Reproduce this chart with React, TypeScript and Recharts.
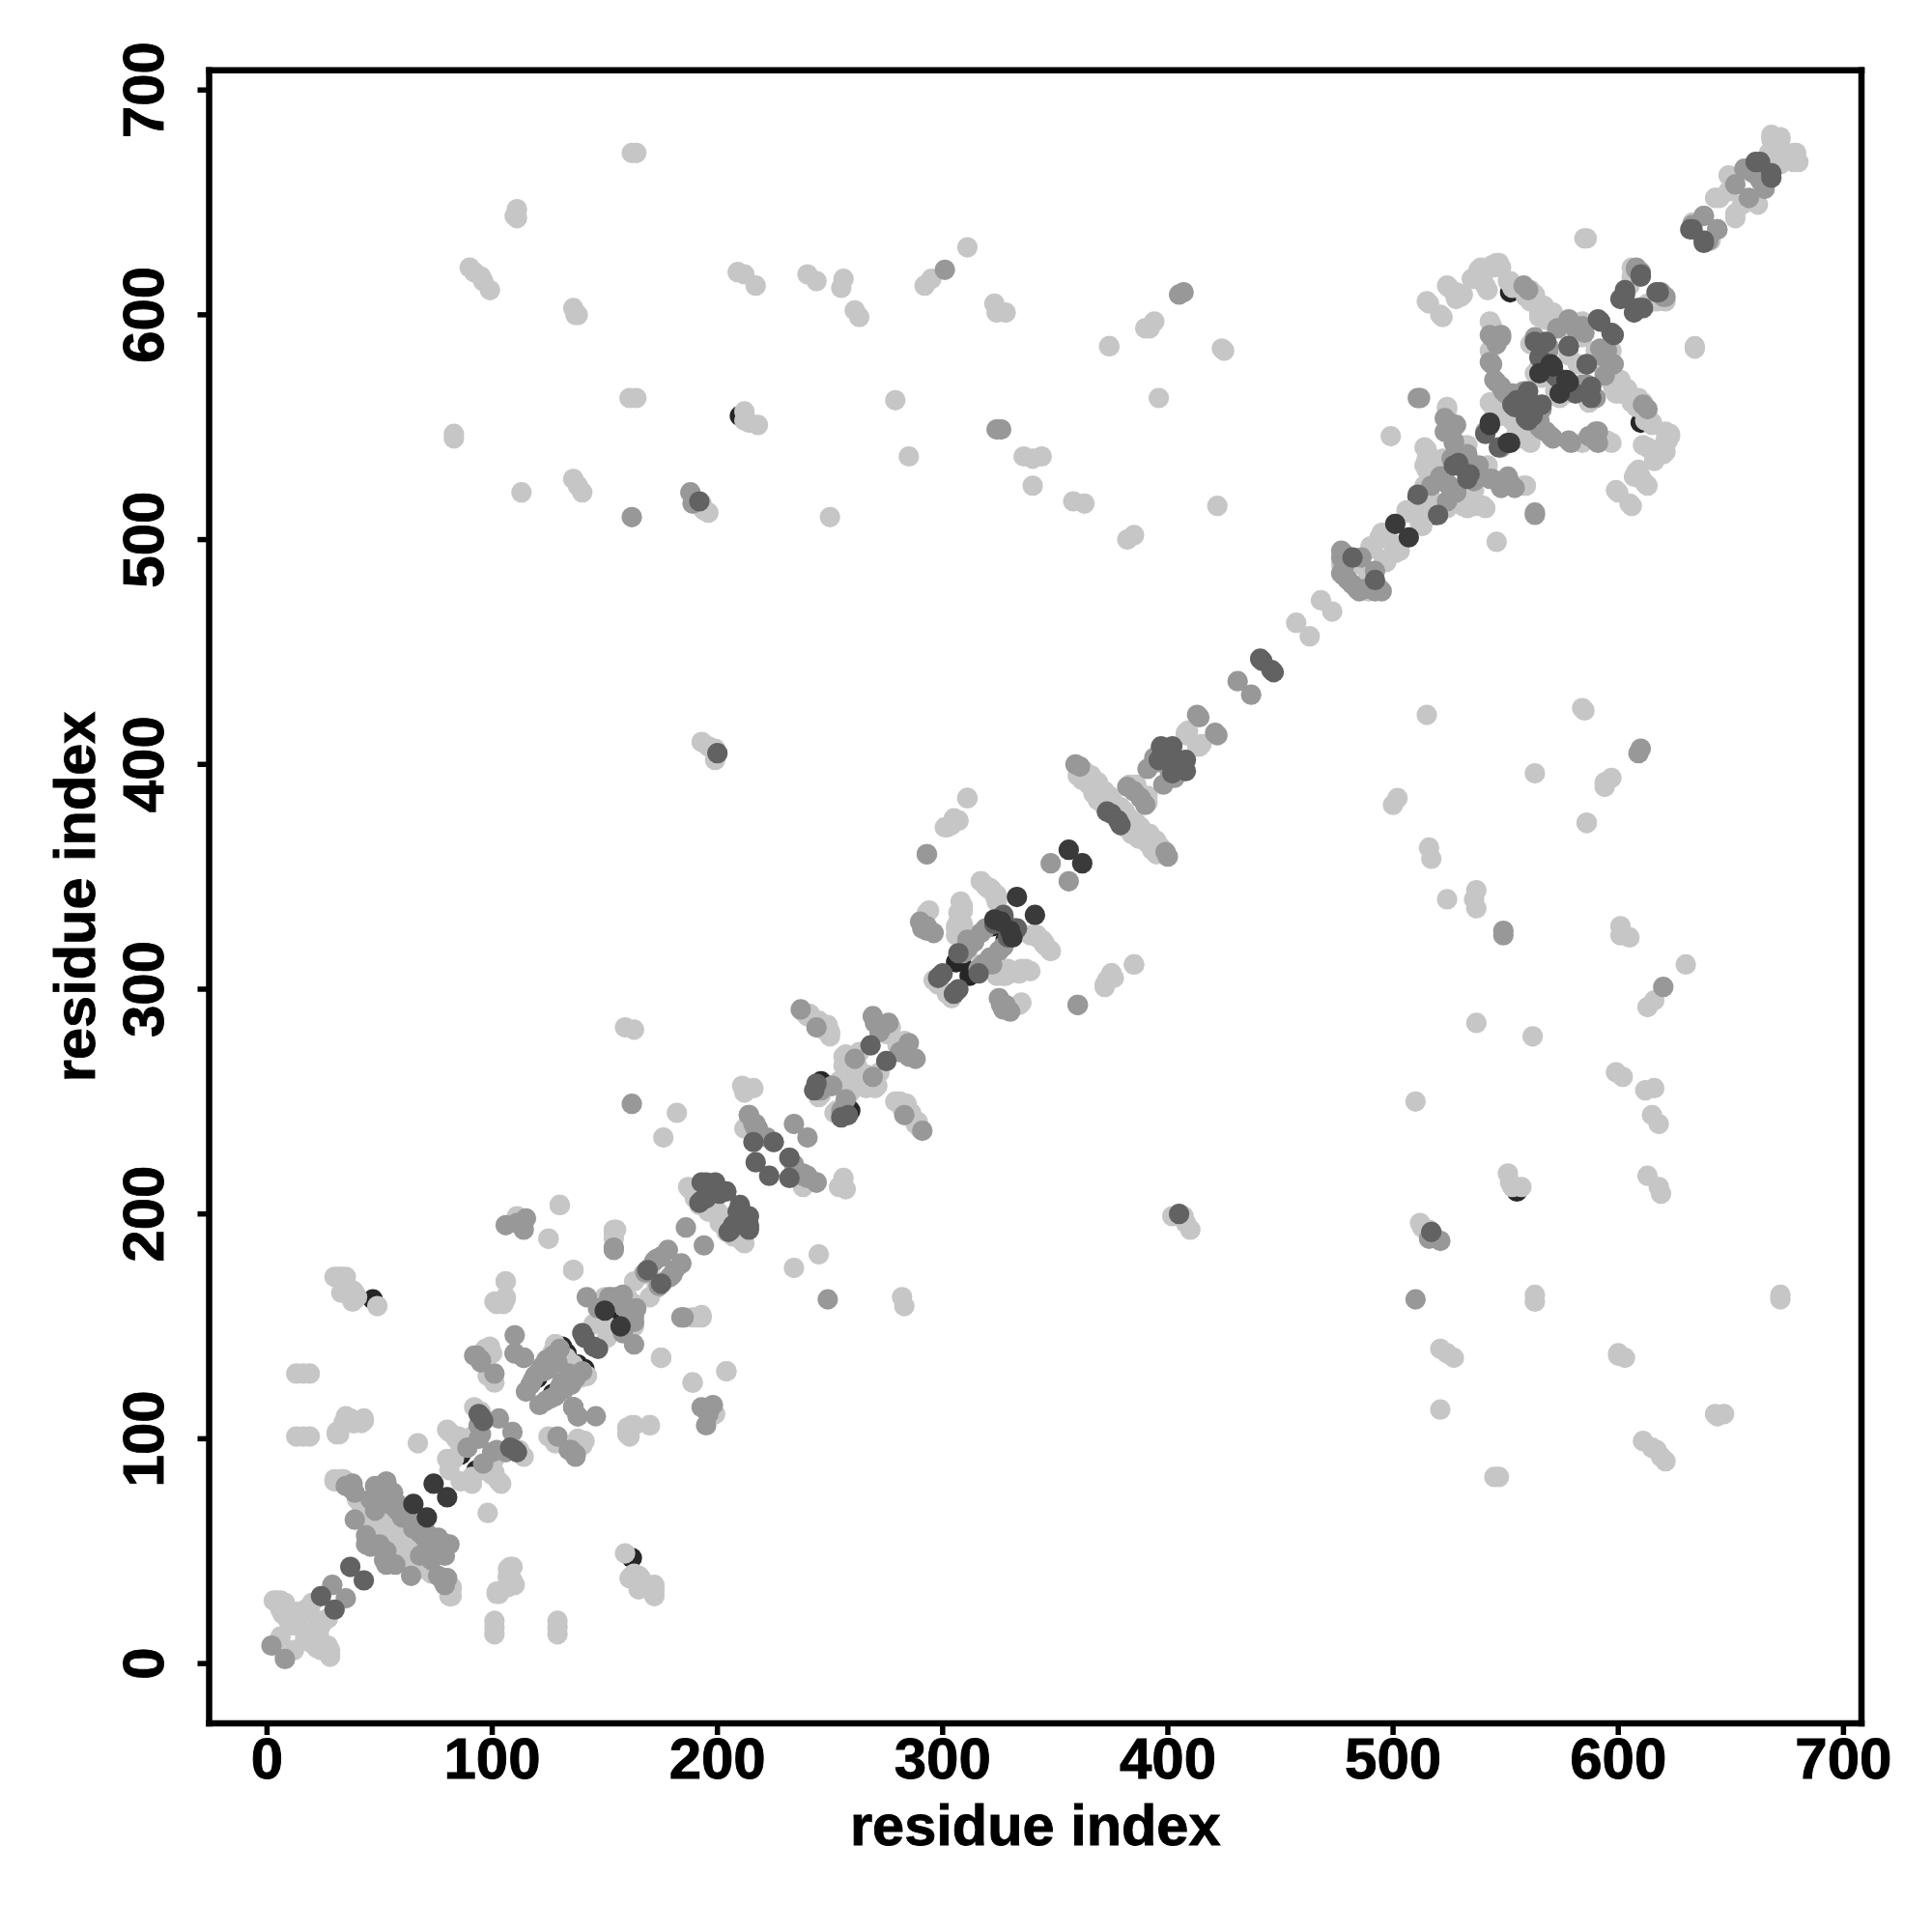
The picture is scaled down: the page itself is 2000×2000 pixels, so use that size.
import React from 'react';
import { ScatterChart, Scatter, XAxis, YAxis, ReferenceLine } from 'recharts';

type P = [number, number];

const axisTicks = [0, 100, 200, 300, 400, 500, 600, 700];
const xDomain: [number, number] = [-25.7, 708];
const yDomain: [number, number] = [-26.6, 708.8];
const axisTitle = 'residue index';

// contact pairs [i, j], i < j; the map is symmetric, so each is also drawn at [j, i]
const inkLow: P[] = [
  [120,127],[131,141],[133,138],[151,157],[150,156],[246,259],[250,257],[306,312],[308,313],[323,329],[322,328],
  [513,521],[512,520],[551,561],[552,563],[554,560],[552,610],[511,519],[86,93],[47,162],[210,555],
];
const light: P[] = [
  [4,28],[6,28],[8,27],[3,28],[6,24],[7,22],[9,20],[10,18],[11,17],[13,23],[15,22],[12,19],[14,17],[17,24],[19,23],[20,27],[9,23],[12,20],[6,12],[3,8],
  [30,172],[33,172],[38,166],[40,163],[39,162],[49,159],[13,129],[16,129],[19,129],[13,101],[16,101],[19,101],[13,17],
  [35,110],[34,107],[39,107],[43,109],[31,103],[37,109],[30,81],[33,82],[34,80],[67,98],[31,102],[38,107],[42,107],[33,165],[35,172],
  [30,82],[34,82],[40,73],[42,70],[44,66],[46,62],[47,68],[49,66],[48,62],[50,60],[52,58],[54,56],[52,66],[55,62],[58,60],[56,69],[50,64],[53,60],[46,58],[49,56],[60,64],[57,66],
  [32,102],[32,172],[38,161],[39,165],[43,108],
  [80,104],[84,100],[80,91],[81,86],[88,100],[92,114],[87,98],[81,103],[85,101],[91,101],[83,91],[86,96],[95,112],
  [97,140],[99,141],[96,137],[98,128],[101,125],[98,139],[100,138],[111,199],[130,204],[125,189],[136,175],[106,170],[101,161],[105,161],[102,160],[106,163],[106,170],
  [128,142],[131,137],[128,142],[133,136],[127,139],[145,151],[150,163],[153,163],[150,151],[163,170],[167,173],[170,176],[163,160],[147,152],[142,128],
  [154,193],[154,191],[189,154],[193,155],[136,175],[175,136],[189,125],[130,204],
  [187,212],[196,201],[197,208],[192,204],[190,207],[188,211],[200,201],[209,196],[211,188],
  [212,238],[216,236],[182,245],[176,234],[211,257],[216,256],[212,254],[246,253],[245,252],[243,255],[238,290],[241,289],[245,286],[249,284],[250,279],[247,282],[248,283],[240,288],
  [250,281],[257,271],[256,266],[259,270],[258,268],[256,270],[258,262],[261,262],[263,272],[280,275],[277,283],[258,269],[262,266],[254,259],
  [294,335],[305,376],[301,372],[307,375],[311,385],[308,339],[308,334],[306,327],[310,319],[309,335],[307,330],[308,323],[317,348],[321,345],[324,339],[319,346],[323,342],[322,344],
  [306,324],[309,329],[309,337],[307,334],[308,332],[306,328],[324,342],[320,345],[317,348],[296,304],[298,302],[293,334],[311,317],[303,298],
  [372,302],[375,307],[385,311],[373,304],[363,397],[366,395],[369,392],[372,388],[374,386],[376,383],[379,381],[381,372],[384,369],[387,367],[391,365],[393,362],[395,360],[383,391],
  [386,391],[409,415],[408,413],[414,408],[457,463],[468,473],[485,489],[483,491],[477,489],[490,497],[490,484],[495,503],[496,491],[502,496],[506,513],[509,512],[512,507],[514,510],
  [494,501],[500,498],[516,526],[516,522],[516,520],[519,515],
  [162,672],[164,672],[110,644],[111,647],[111,643],[90,621],[92,619],[95,617],[96,615],[99,611],[136,603],[137,600],[138,600],[209,619],[212,618],[217,613],
  [240,618],[244,615],[256,616],[255,612],[261,602],[263,599],[292,613],[295,616],[311,630],[323,605],[324,601],[328,601],[374,586],[390,594],[394,597],[392,594],
  [425,584],[396,563],[279,562],[161,563],[164,563],[83,545],[83,547],[212,553],[214,552],[218,551],[212,557],[285,537],[336,537],[340,536],[344,537],[340,524],[136,527],[138,524],[140,521],
  [113,521],[194,513],[196,512],[193,516],[250,510],[358,517],[363,516],[422,515],[382,500],[385,502],[193,410],[196,408],[199,407],[199,402],[159,283],[163,282],
  [106,162],[105,160],[154,185],[586,374],[585,424],[546,499],
  [514,541],[515,536],[514,533],[524,559],[522,536],[533,542],[534,523],[535,515],[540,515],[531,515],[524,514],[558,524],[515,606],[521,600],[524,613],[527,610],[530,608],[528,609],
  [535,616],[538,620],[541,613],[546,623],[548,621],[544,622],[551,615],[553,612],[561,611],[559,608],[565,601],[570,601],[570,597],[567,598],[543,597],[546,560],[545,556],[553,553],[560,561],
  [556,551],[563,574],[566,572],[565,577],[571,574],[582,578],[578,592],[580,590],[590,584],[597,584],[592,581],[598,571],[601,571],[599,565],[604,567],[609,563],[606,561],[615,552],[623,547],[621,544],[611,542],
  [618,540],[616,537],[621,539],[609,531],[612,525],[610,528],[607,528],[599,522],[605,516],[584,543],[595,544],[587,561],[555,548],[562,547],[558,549],[561,543],
  [634,586],[585,634],[617,606],[605,613],[606,621],[633,641],[649,662],[643,652],[652,645],[649,655],[668,678],[672,678],[667,672],[679,672],[674,672],[669,679],[680,668],[658,664],
];
const mid: P[] = [
  [2,8],[29,35],[39,64],[46,52],[53,81],[56,70],[58,71],[62,69],[49,70],[46,73],[49,78],[53,80],[48,79],[38,80],[35,79],[50,74],[54,74],[58,68],[61,67],[60,65],[48,68],
  [50,53],[44,57],[37,78],[39,76],[44,53],[53,76],[56,76],[65,62],
  [103,109],[94,100],[89,96],[94,106],[95,102],[110,146],[110,138],[114,136],[92,137],[101,129],[93,137],[95,134],[137,93],[135,95],[111,196],[115,198],[114,193],[106,195],
  [115,121],[117,124],[119,128],[123,130],[130,122],[114,136],[110,138],[136,114],[118,126],[120,129],[125,131],[129,134],[127,137],[122,132],[124,135],[140,130],
  [142,163],[158,164],[155,163],[152,163],[172,179],[178,184],[186,194],[154,185],[154,184],[162,249],[162,510],[157,160],[147,158],[150,158],[168,174],[173,180],[175,181],
  [214,244],[217,240],[218,238],[234,240],[222,234],[232,225],[217,238],[214,244],[216,240],[251,257],[246,255],[237,291],[244,283],[269,288],[273,283],[276,285],[270,285],[261,269],[272,281],
  [291,327],[290,330],[296,325],[293,326],[293,360],[292,328],[317,325],[314,321],[311,318],[309,316],[319,327],[311,322],[348,356],[360,293],[328,293],
  [359,400],[361,399],[382,390],[391,398],[385,388],[397,407],[401,406],[394,403],[396,401],[414,421],[413,422],[431,437],[477,495],[477,485],[478,487],[484,478],[494,478],[480,482],[486,492],[477,492],
  [517,524],[521,528],[521,528],[528,522],[511,563],[525,552],[528,551],[527,544],[526,548],[543,591],[548,591],[543,579],[545,571],[550,565],[558,566],[548,568],[553,563],[565,559],[566,549],[570,546],
  [578,544],[590,548],[590,544],[587,546],[527,551],[528,539],[533,538],[535,527],[543,527],[551,527],[554,523],[548,523],[524,525],[526,536],[541,548],[565,553],
  [569,584],[584,595],[578,598],[581,594],[585,592],[586,569],[587,565],[590,563],[597,578],[594,573],[613,558],[611,560],[563,512],[188,521],[189,516],[324,549],[326,549],[407,610],[405,609],
  [301,620],[608,621],[603,610],[619,610],[620,608],[644,638],[638,644],[633,640],[656,665],[660,663],[652,658],
];
const dark: P[] = [
  [24,30],[37,43],[94,111],[95,110],[96,108],[140,147],[141,145],[169,175],[192,205],[193,214],[195,214],[199,214],[204,210],[195,207],[199,211],[193,206],[201,209],[197,212],
  [217,223],[225,232],[216,232],[244,258],[243,255],[268,275],[300,307],[299,306],[298,305],[307,316],[327,333],[332,327],[326,332],[329,323],[373,379],[375,378],
  [441,447],[442,446],[397,408],[399,403],[402,408],[396,402],[482,492],[511,520],[527,533],[529,534],[533,529],[547,541],[555,562],[554,559],[558,562],[560,553],
  [563,588],[568,588],[565,581],[578,586],[586,578],[591,598],[592,597],[610,618],[601,607],[611,603],[617,610],[603,609],[632,638],[638,633],[661,668],[663,668],
  [192,517],[560,566],[572,573],[200,405],
];
const ink: P[] = [
  [65,71],[74,80],[150,157],[356,362],[333,341],[501,507],[570,578],[577,571],[574,565],[543,552],[551,543],[323,331],[326,330],
];

const withMirror = (pairs: P[]) => pairs.flatMap(([i, j]) => [{ x: i, y: j }, { x: j, y: i }]);

const layers: { name: string; pts: P[]; fill: string }[] = [
  { name: 'low', pts: inkLow, fill: '#262626' },
  { name: 'light', pts: light, fill: '#c6c6c6' },
  { name: 'mid', pts: mid, fill: '#989898' },
  { name: 'dark', pts: dark, fill: '#626262' },
  { name: 'ink', pts: ink, fill: '#3a3a3a' },
];

const FONT = '"Liberation Sans", Arial, sans-serif';

const XTick = ({ x, y, payload }: any) => (
  <text x={x} y={y + 43} textAnchor="middle" fontFamily={FONT} fontWeight="bold" fontSize={60} fill="#000" stroke="#000" strokeWidth={0.9}>
    {payload.value}
  </text>
);
const YTick = ({ x, y, payload }: any) => (
  <text transform={`translate(${x - 33.5},${y}) rotate(-90)`} textAnchor="middle" fontFamily={FONT} fontWeight="bold" fontSize={60} fill="#000" stroke="#000" strokeWidth={0.9}>
    {payload.value}
  </text>
);

const Dot = (p: any) => <circle cx={p.cx} cy={p.cy} r={10.6} fill={p.fill} />;

const titleStyle = { fontFamily: FONT, fontWeight: 'bold', fontSize: 59.5, fill: '#000', stroke: '#000', strokeWidth: 0.9 };
const frame = { stroke: '#000', strokeWidth: 6.5, strokeLinecap: 'square' as const };

export default function App() {
  return (
    <div style={{ position: 'absolute', left: 0, top: 0, width: 2000, height: 2000, background: '#fff' }}>
      <ScatterChart width={2000} height={2000} margin={{ top: 72.7, right: 73, bottom: 0, left: 0 }}>
        <XAxis
          type="number" dataKey="x" domain={xDomain} ticks={axisTicks} interval={0} height={216}
          axisLine={false} tickSize={12} tickLine={{ stroke: '#000', strokeWidth: 5.5 }} tick={<XTick />}
          label={{ value: axisTitle, position: 'insideBottom', offset: 90, style: titleStyle }}
        />
        <YAxis
          type="number" dataKey="y" domain={yDomain} ticks={axisTicks} interval={0} width={216.5}
          axisLine={false} tickSize={12} tickLine={{ stroke: '#000', strokeWidth: 5.5 }} tick={<YTick />}
          label={{ value: axisTitle, position: 'insideLeft', angle: -90, offset: 77, style: { ...titleStyle, textAnchor: 'middle' } }}
        />
        {layers.map((l) => (
          <Scatter key={l.name} name={l.name} data={withMirror(l.pts)} fill={l.fill} shape={Dot} isAnimationActive={false} />
        ))}
        <ReferenceLine segment={[{ x: 0, y: 0 }, { x: 680, y: 680 }]} stroke="#fff" strokeWidth={1.6} />
        <ReferenceLine x={xDomain[0]} {...frame} />
        <ReferenceLine x={xDomain[1]} {...frame} />
        <ReferenceLine y={yDomain[0]} {...frame} />
        <ReferenceLine y={yDomain[1]} {...frame} />
      </ScatterChart>
    </div>
  );
}
